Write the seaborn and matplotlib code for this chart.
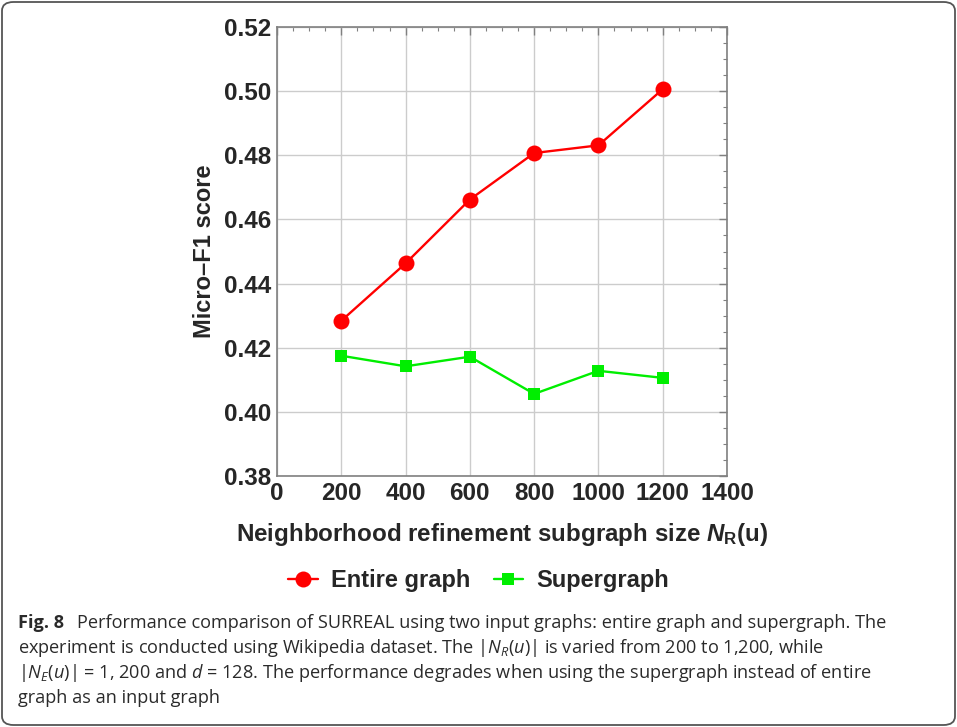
import matplotlib
matplotlib.use("Agg")
import matplotlib.pyplot as plt
import seaborn as sns
import pandas as pd
from matplotlib.patches import FancyBboxPatch
from matplotlib.ticker import MultipleLocator, FormatStrFormatter
from matplotlib.lines import Line2D

sizes = [200, 400, 600, 800, 1000, 1200]
entire_graph = [0.4284, 0.4463, 0.4662, 0.4807, 0.4831, 0.5006]
supergraph = [0.4175, 0.4142, 0.4172, 0.4056, 0.4128, 0.4106]
series_names = ["Entire graph", "Supergraph"]

sns.set_style("white")
plt.rcParams["font.family"] = ["Liberation Sans", "DejaVu Sans"]
plt.rcParams["mathtext.fontset"] = "custom"
plt.rcParams["mathtext.it"] = "Liberation Sans:italic:bold"
plt.rcParams["mathtext.bf"] = "Liberation Sans:bold"
plt.rcParams["mathtext.rm"] = "Open Sans"
plt.rcParams["mathtext.sf"] = "Open Sans:italic"

df = pd.DataFrame({
    "size": sizes * 2,
    "score": entire_graph + supergraph,
    "series": [series_names[0]] * len(sizes) + [series_names[1]] * len(sizes),
})

fig = plt.figure(figsize=(9.57, 7.27), dpi=100)
ax = fig.add_axes([277 / 957, 1 - 476 / 727, 450 / 957, 449 / 727])

palette = {series_names[0]: "#ff0000", series_names[1]: "#00ee00"}
markers = {series_names[0]: "o", series_names[1]: "s"}
sns.lineplot(data=df, x="size", y="score", hue="series", style="series",
             palette=palette, markers=markers, dashes=False, ax=ax,
             linewidth=1.7, markeredgewidth=0, legend=False)
for ln in ax.lines:
    if ln.get_marker() == "o":
        ln.set_markersize(11.5)
    else:
        ln.set_markersize(8.5)

ax.set_xlim(0, 1400)
ax.set_ylim(0.38, 0.52)
ax.xaxis.set_major_locator(MultipleLocator(200))
ax.xaxis.set_minor_locator(MultipleLocator(50))
ax.yaxis.set_major_locator(MultipleLocator(0.02))
ax.yaxis.set_minor_locator(MultipleLocator(0.005))
ax.yaxis.set_major_formatter(FormatStrFormatter("%.2f"))
ax.grid(True, which="major", color="#cccccc", linewidth=1)
ax.set_axisbelow(True)
for s in ax.spines.values():
    s.set_color("#808080")
    s.set_linewidth(1.2)
ax.tick_params(which="both", direction="in", top=True, right=True, color="#808080")
ax.tick_params(which="major", length=6, width=1, labelsize=17.5, pad=4)
ax.tick_params(which="minor", length=3, width=0.8)
for lab in ax.get_xticklabels() + ax.get_yticklabels():
    lab.set_fontweight("bold")

ax.set_xlabel(r"Neighborhood refinement subgraph size $N_{\mathbf{R}}$(u)",
              fontsize=17.4, fontweight="bold", labelpad=12)
ax.set_ylabel("Micro–F1 score", fontsize=17, fontweight="bold", labelpad=6)

handles = [
    Line2D([], [], color="#ff0000", marker="o", markersize=11.5, markeredgewidth=0, linewidth=1.7),
    Line2D([], [], color="#00ee00", marker="s", markersize=8.5, markeredgewidth=0, linewidth=1.7),
]
fig.legend(handles, series_names, loc="center", bbox_to_anchor=(0.5, 1 - 581 / 727),
           ncol=2, frameon=False, prop={"family": "Liberation Sans", "weight": "bold", "size": 17},
           handlelength=1.25, handletextpad=0.55, columnspacing=1.0)

# caption
cap_color = "#2a2a2a"
cap_font = {"family": "Open Sans", "size": 13.1, "color": cap_color}
x0 = 18 / 957
t1 = fig.text(x0, 1 - 628 / 727, "Fig. 8", fontweight="bold", va="baseline", **cap_font)
fig.text(77 / 957, 1 - 628 / 727,
         "Performance comparison of SURREAL using two input graphs: entire graph and supergraph. The",
         va="baseline", **cap_font)
fig.text(x0, 1 - 653 / 727,
         r"experiment is conducted using Wikipedia dataset. The |$\mathsf{N}_{\mathsf{R}}$($\mathsf{u}$)| is varied from 200 to 1,200, while",
         va="baseline", **cap_font)
fig.text(x0, 1 - 678 / 727,
         r"|$\mathsf{N}_{\mathsf{E}}$($\mathsf{u}$)| = 1, 200 and $\mathsf{d}$ = 128. The performance degrades when using the supergraph instead of entire",
         va="baseline", **cap_font)
fig.text(x0, 1 - 703 / 727, "graph as an input graph", va="baseline", **cap_font)

border = FancyBboxPatch((2 / 957, 2 / 727), 953 / 957, 723 / 727,
                        boxstyle="round,pad=0,rounding_size=0.012",
                        transform=fig.transFigure, facecolor="none",
                        edgecolor="#555555", linewidth=1.3)
fig.patches.append(border)

fig.savefig("out.png", dpi=100)
